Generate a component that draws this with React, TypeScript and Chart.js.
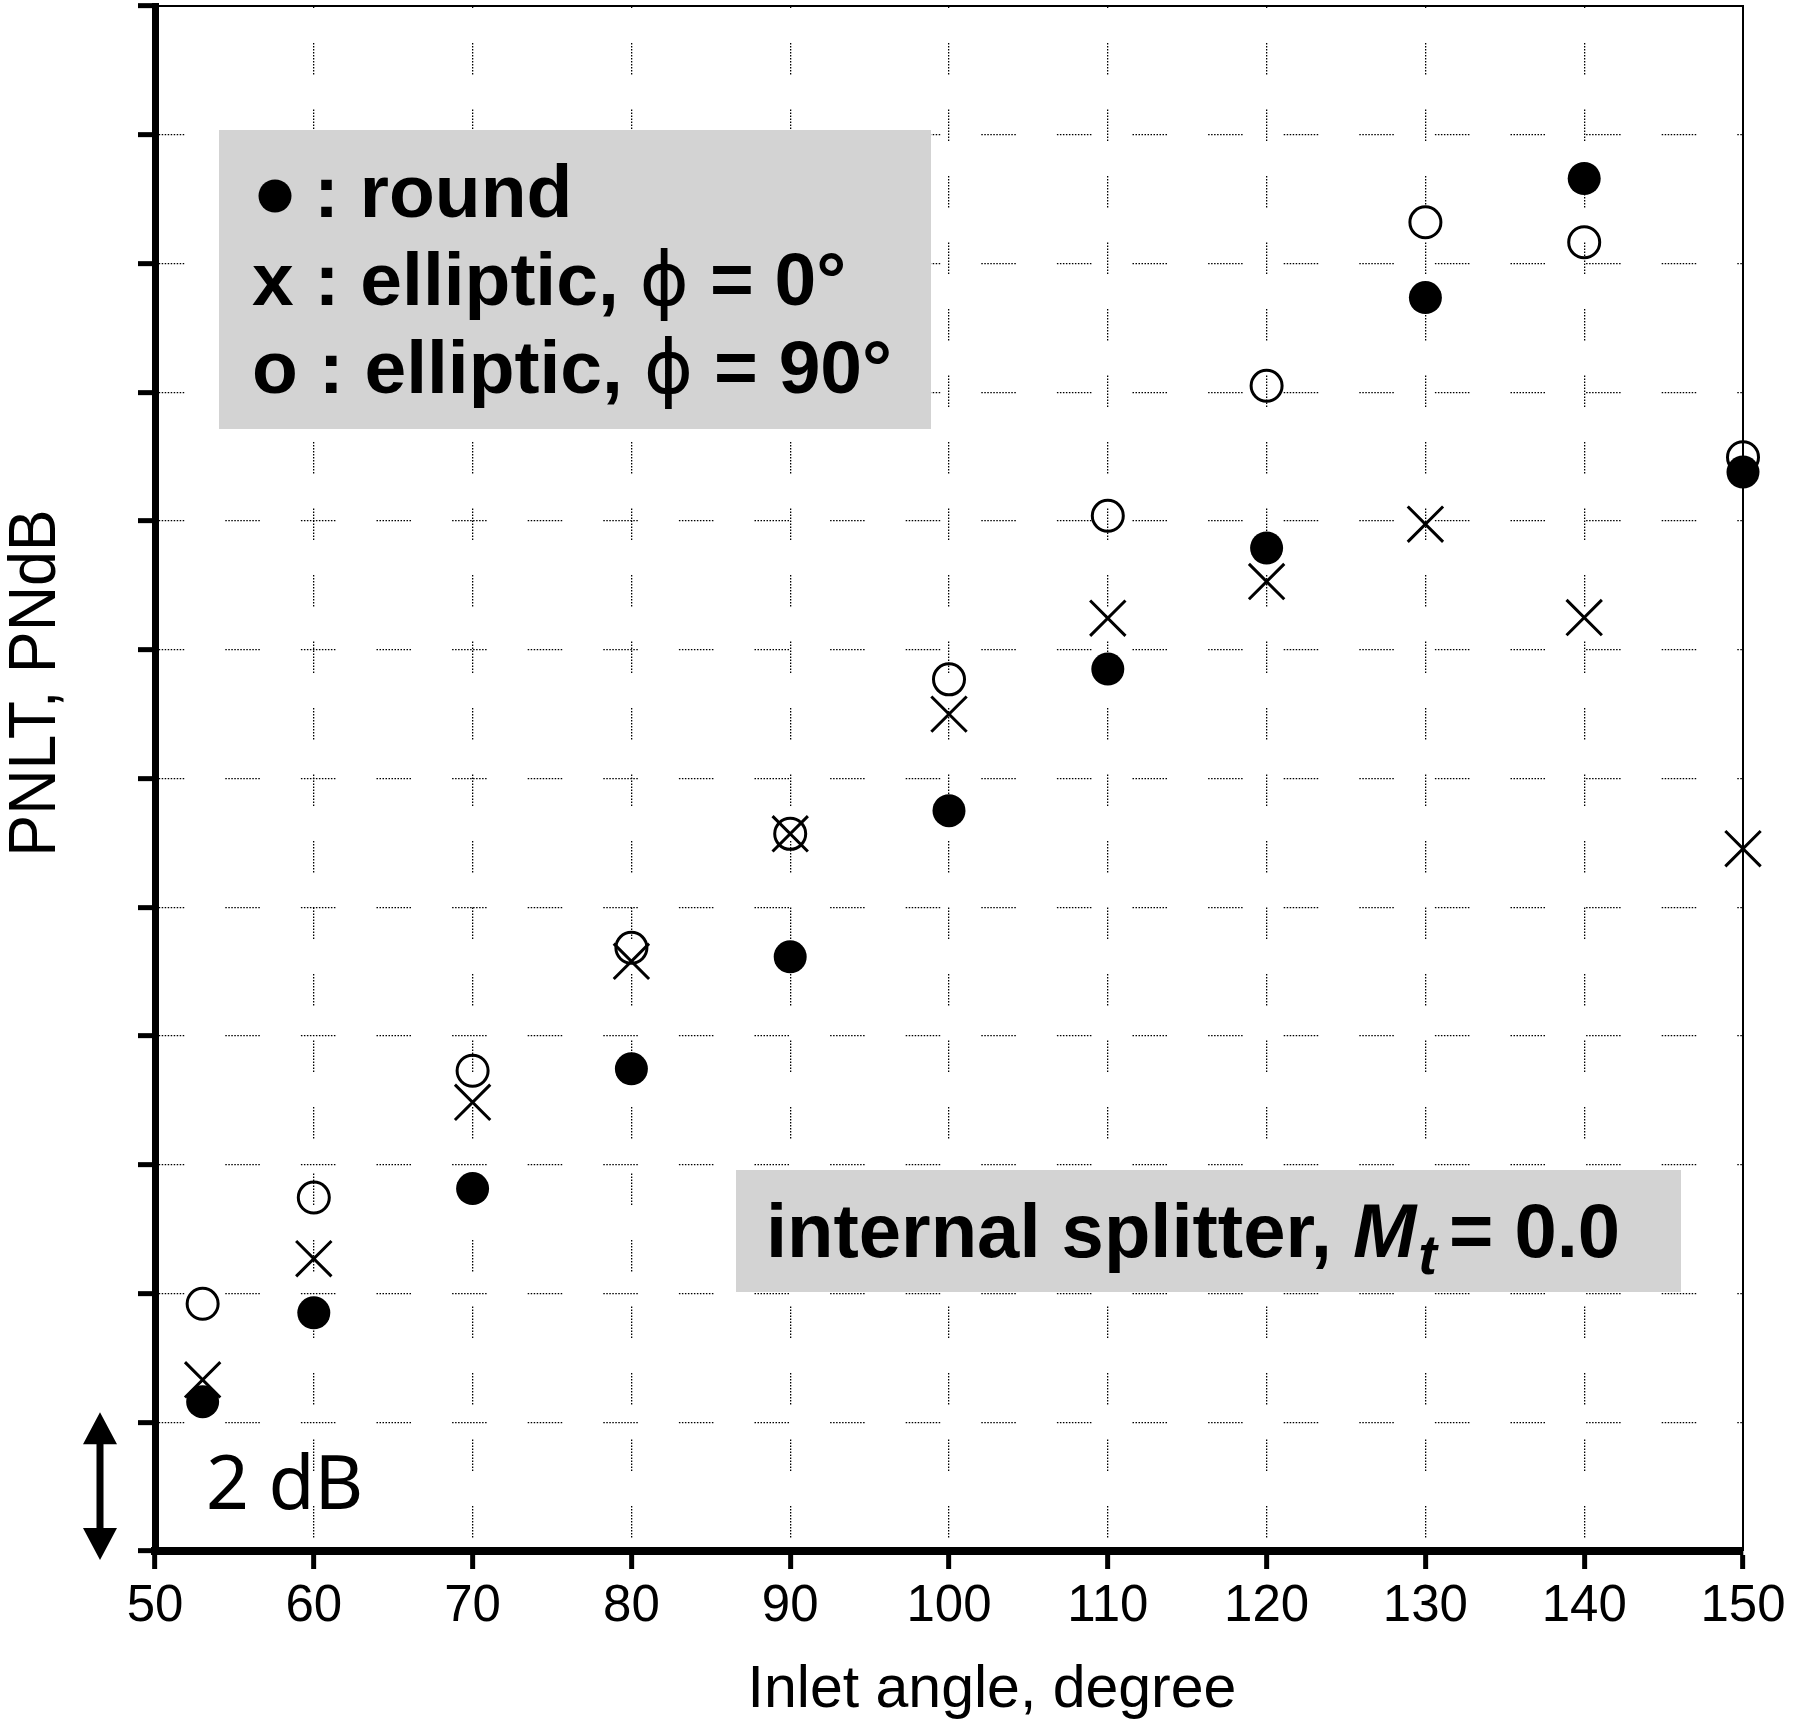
import { useEffect, useRef } from 'react';
import { Chart, registerables, type Plugin } from 'chart.js';

Chart.register(...registerables);

// Inlet angle (deg) and PNLT; y is in dB, one tick = 2 dB.
const ANGLES = [53, 60, 70, 80, 90, 100, 110, 120, 130, 140, 150];
const ROUND = [2.32, 3.7, 5.63, 7.49, 9.23, 11.5, 13.7, 15.58, 19.47, 21.32, 16.76];
const ELLIPTIC_0 = [2.66, 4.54, 6.97, 9.16, 11.14, 13.0, 14.49, 15.06, 15.95, 14.5, 10.91];
const ELLIPTIC_90 = [3.84, 5.49, 7.46, 9.37, 11.14, 13.54, 16.08, 18.1, 20.64, 20.33, 16.99];

const X_MIN = 50;
const X_MAX = 150;
const X_STEP = 10;
const Y_MIN = 0;
const Y_MAX = 24;
const Y_STEP = 2;

const FONT = '"Liberation Sans", Arial, Helvetica, sans-serif';
const BOX_GRAY = '#d3d3d3';

// Dashes built out of small dots, like the original's dotted grid.
function dotted(on: number, period: number, dot = 1.5): number[] {
  const out: number[] = [];
  const n = Math.max(1, Math.round(on / (dot * 2)));
  for (let i = 0; i < n; i++) out.push(dot, dot);
  out[out.length - 1] += period - n * dot * 2;
  return out;
}

function toPoints(ys: number[]) {
  return ANGLES.map((x, i) => ({ x, y: ys[i] }));
}

type Run = { text: string; font: string; dy?: number; gap?: number };

function drawRuns(ctx: CanvasRenderingContext2D, x: number, y: number, runs: Run[]) {
  let cx = x;
  for (const r of runs) {
    ctx.font = r.font;
    cx += r.gap || 0;
    ctx.fillText(r.text, cx, y + (r.dy || 0));
    cx += ctx.measureText(r.text).width;
  }
}

const decorPlugin: Plugin = {
  id: 'decor',
  beforeDatasetsDraw(chart) {
    const { ctx, chartArea: a } = chart;
    const yScale = chart.scales.y;
    ctx.save();

    // thin frame on top and right
    ctx.strokeStyle = '#000';
    ctx.lineWidth = 2;
    ctx.beginPath();
    ctx.moveTo(a.left, a.top);
    ctx.lineTo(a.right, a.top);
    ctx.lineTo(a.right, a.bottom);
    ctx.stroke();

    ctx.fillStyle = '#000';
    ctx.textAlign = 'left';
    ctx.textBaseline = 'alphabetic';

    // legend box
    const bold = `bold 75px ${FONT}`;
    const phi = `75px "DejaVu Sans", ${FONT}`;
    ctx.fillStyle = BOX_GRAY;
    ctx.fillRect(219, 130, 712, 299);
    ctx.fillStyle = '#000';
    ctx.beginPath();
    ctx.arc(275, 196, 16.5, 0, Math.PI * 2);
    ctx.fill();
    drawRuns(ctx, 314, 217, [{ text: ': round', font: bold }]);
    drawRuns(ctx, 252, 305, [
      { text: 'x : elliptic, ', font: bold },
      { text: 'ϕ', font: phi },
      { text: ' = 0°', font: bold },
    ]);
    drawRuns(ctx, 252, 393, [
      { text: 'o : elliptic, ', font: bold },
      { text: 'ϕ', font: phi },
      { text: ' = 90°', font: bold },
    ]);

    // condition box
    ctx.fillStyle = BOX_GRAY;
    ctx.fillRect(736, 1170, 945, 122);
    ctx.fillStyle = '#000';
    drawRuns(ctx, 766, 1257, [
      { text: 'internal', font: `bold 76px ${FONT}` },
      { text: ' splitter, ', font: `bold 76px ${FONT}`, gap: 0 },
      { text: 'M', font: `italic bold 76px ${FONT}` },
      { text: 't', font: `italic bold 56px ${FONT}`, dy: 17, gap: 2 },
      { text: '= 0.0', font: `bold 76px ${FONT}`, gap: 12 },
    ]);

    // 2 dB scale arrow
    const top = yScale.getPixelForValue(Y_STEP) - 10;
    const bot = yScale.getPixelForValue(Y_MIN) + 9;
    const ax = 100;
    const hw = 17;
    const hl = 32;
    ctx.fillRect(ax - 3.5, top + hl - 2, 7, bot - top - 2 * hl + 4);
    ctx.beginPath();
    ctx.moveTo(ax, top);
    ctx.lineTo(ax + hw, top + hl);
    ctx.lineTo(ax - hw, top + hl);
    ctx.closePath();
    ctx.moveTo(ax, bot);
    ctx.lineTo(ax + hw, bot - hl);
    ctx.lineTo(ax - hw, bot - hl);
    ctx.closePath();
    ctx.fill();
    ctx.font = '75px "Noto Sans", "Open Sans", sans-serif';
    ctx.fillText('2 dB', 206, 1509);

    // axis titles
    ctx.font = `59px ${FONT}`;
    ctx.textAlign = 'center';
    ctx.fillText('Inlet angle, degree', 992, 1707);

    ctx.save();
    ctx.translate(31, 683);
    ctx.rotate(-Math.PI / 2);
    ctx.scale(0.95, 1);
    ctx.font = `66px ${FONT}`;
    ctx.fillText('PNLT, PNdB', 0, 24);
    ctx.restore();

    ctx.restore();
  },
};

export default function App() {
  const canvasRef = useRef<HTMLCanvasElement | null>(null);

  useEffect(() => {
    document.body.style.margin = '0';
    const canvas = canvasRef.current;
    if (!canvas) return undefined;

    const hDash = dotted(36, 75.6);
    const vDash = dotted(32, 66.5);

    const chart = new Chart(canvas, {
      type: 'scatter',
      data: {
        datasets: [
          {
            label: 'round',
            data: toPoints(ROUND),
            pointStyle: 'circle',
            pointRadius: 16.5,
            pointBackgroundColor: '#000',
            pointBorderColor: '#000',
            pointBorderWidth: 0,
            showLine: false,
            clip: false,
          },
          {
            label: 'elliptic, phi = 0',
            data: toPoints(ELLIPTIC_0),
            pointStyle: 'crossRot',
            pointRadius: 25,
            pointBorderColor: '#000',
            pointBorderWidth: 3,
            showLine: false,
            clip: false,
          },
          {
            label: 'elliptic, phi = 90',
            data: toPoints(ELLIPTIC_90),
            pointStyle: 'circle',
            pointRadius: 15.5,
            pointBackgroundColor: 'rgba(0,0,0,0)',
            pointBorderColor: '#000',
            pointBorderWidth: 3,
            showLine: false,
            clip: false,
          },
        ],
      },
      options: {
        responsive: false,
        devicePixelRatio: 1,
        animation: false,
        events: [],
        layout: { autoPadding: false, padding: { top: 6, right: 60, bottom: 0, left: 0 } },
        plugins: {
          legend: { display: false },
          tooltip: { enabled: false },
        },
        scales: {
          x: {
            type: 'linear',
            min: X_MIN,
            max: X_MAX,
            afterFit: (s: any) => {
              s.height = 173;
              s.paddingLeft = 0;
              s.paddingRight = 0;
            },
            ticks: {
              stepSize: X_STEP,
              color: '#000',
              padding: 7,
              font: { family: FONT, size: 51 },
            },
            grid: {
              color: (c) =>
                c.tick && (c.tick.value === X_MIN || c.tick.value === X_MAX) ? 'rgba(0,0,0,0)' : '#000',
              lineWidth: 1.3,
              tickColor: '#000',
              tickWidth: 5,
              tickLength: 18,
              borderDash: vDash,
              borderDashOffset: 29.5,
            } as any,
            border: { color: '#000', width: 8, dash: vDash, dashOffset: 29.5 },
          },
          y: {
            type: 'linear',
            min: Y_MIN,
            max: Y_MAX,
            afterFit: (s: any) => {
              s.width = 155;
              s.paddingTop = 0;
              s.paddingBottom = 0;
            },
            ticks: { stepSize: Y_STEP, display: false },
            grid: {
              color: (c) =>
                c.tick && (c.tick.value === Y_MIN || c.tick.value === Y_MAX) ? 'rgba(0,0,0,0)' : '#000',
              lineWidth: 1.3,
              tickColor: '#000',
              tickWidth: 5,
              tickLength: 17,
              borderDash: hDash,
              borderDashOffset: 9.3,
            } as any,
            border: { color: '#000', width: 7, dash: hDash, dashOffset: 9.3 },
          },
        },
      },
      plugins: [decorPlugin],
    });

    return () => {
      chart.destroy();
    };
  }, []);

  return (
    <div style={{ width: 1803, height: 1724, background: '#fff' }}>
      <canvas ref={canvasRef} width={1803} height={1724} style={{ display: 'block' }} />
    </div>
  );
}
